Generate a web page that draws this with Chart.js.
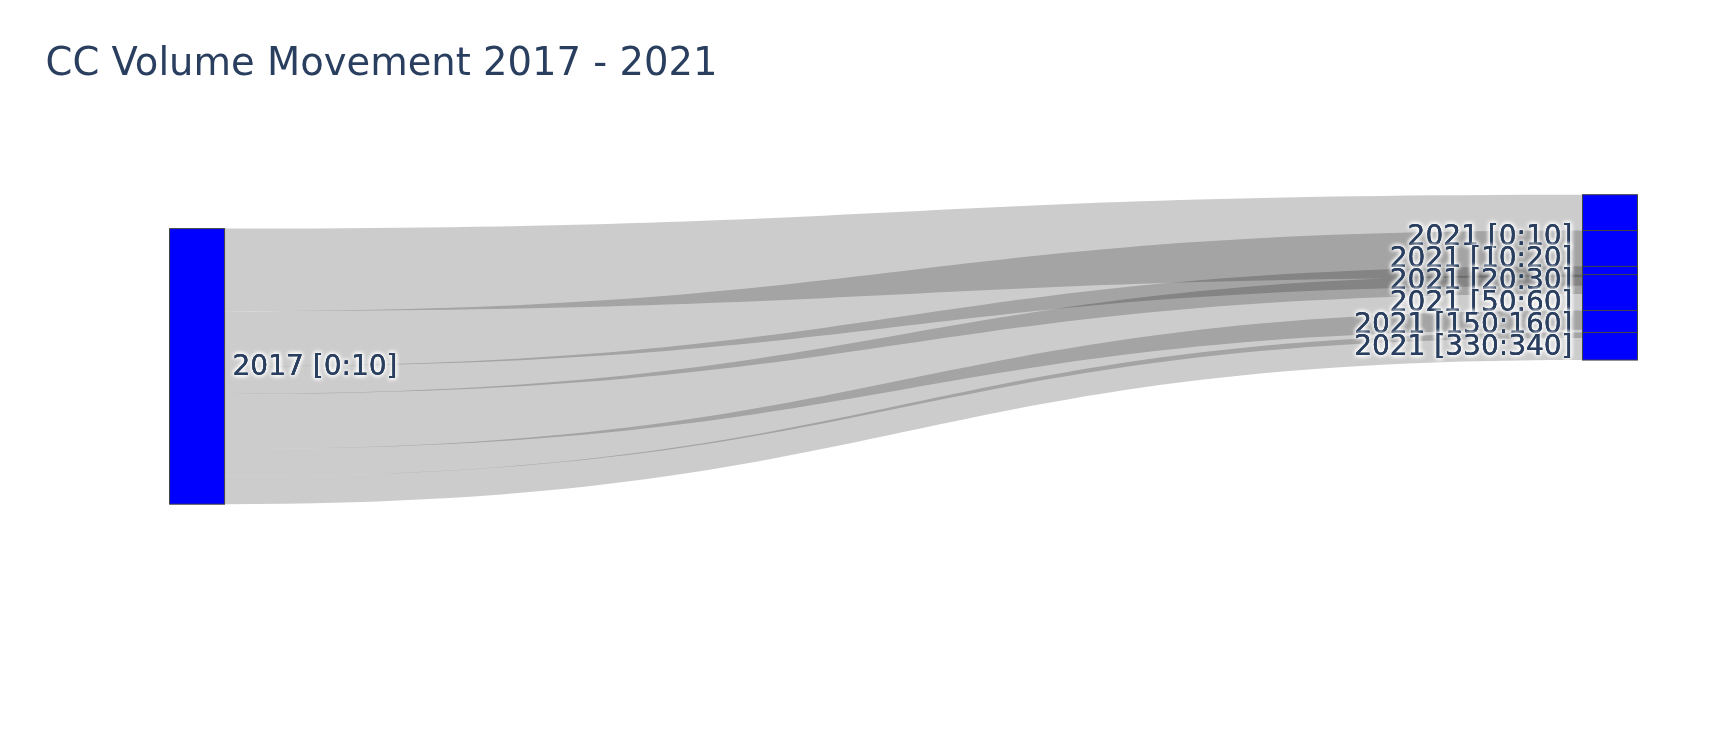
<!DOCTYPE html>
<html>
<head>
<meta charset="utf-8">
<script src="https://cdn.jsdelivr.net/npm/chart.js@4.4.1/dist/chart.umd.min.js"></script>
<style>
html,body{margin:0;padding:0;background:#ffffff;}
#wrap{width:1715px;height:734px;position:relative;}
</style>
</head>
<body>
<div id="wrap"><canvas id="c"></canvas></div>
<script>
// ---- data ----
const titleText = 'CC Volume Movement 2017 - 2021';
const sourceLabel = '2017 [0:10]';
const targetLabels = ['2021 [0:10]', '2021 [10:20]', '2021 [20:30]', '2021 [50:60]', '2021 [150:160]', '2021 [330:340]'];
const linkValues = [3, 2, 1, 2, 1, 1];           // flow from the 2017 node to each 2021 node
const sourceCenter = 5;                           // node centre positions, in value units
const targetCenters = [0.27, 1.07, 1.87, 2.67, 3.47, 4.27];

// ---- style ----
const NODE_THICK = 55;
const NODE_COLOR = '#0000ff';
const NODE_LINE = 'rgb(68,68,68)';
const LINK_COLOR = 'rgba(0,0,0,0.2)';
const TEXT_COLOR = '#2a3f5f';
const LABEL_FONT = '28px "DejaVu Sans"';

function drawLabel(ctx, text, x, y, align) {
  ctx.save();
  ctx.font = LABEL_FONT;
  ctx.textAlign = align;
  ctx.textBaseline = 'alphabetic';
  ctx.fillStyle = TEXT_COLOR;
  ctx.shadowColor = '#ffffff';
  ctx.shadowBlur = 4;
  const offs = [[1, 1], [1, -1], [-1, 1], [-1, -1]];
  for (const [dx, dy] of offs) {
    ctx.shadowOffsetX = dx;
    ctx.shadowOffsetY = dy;
    ctx.fillText(text, x, y);
  }
  ctx.shadowColor = 'rgba(0,0,0,0)';
  ctx.shadowBlur = 0;
  ctx.shadowOffsetX = 0;
  ctx.shadowOffsetY = 0;
  ctx.fillText(text, x, y);
  ctx.restore();
}

function drawNode(ctx, x0, y0, x1, y1) {
  ctx.fillStyle = NODE_COLOR;
  ctx.fillRect(x0, y0, x1 - x0, y1 - y0);
  ctx.lineWidth = 1;
  ctx.strokeStyle = NODE_LINE;
  ctx.strokeRect(x0, y0, x1 - x0, y1 - y0);
}

const sankeyPlugin = {
  id: 'sankeyDraw',
  afterDatasetsDraw(chart) {
    const ctx = chart.ctx;
    const xs = chart.scales.x, ys = chart.scales.y;
    const sx0 = xs.getPixelForValue(0), sx1 = sx0 + NODE_THICK;
    const tx0 = xs.getPixelForValue(1), tx1 = tx0 + NODE_THICK;
    const total = linkValues.reduce((a, b) => a + b, 0);
    const sTop = sourceCenter - total / 2;
    ctx.save();
    // links
    let acc = sTop;
    linkValues.forEach((v, i) => {
      const s0 = ys.getPixelForValue(acc), s1 = ys.getPixelForValue(acc + v);
      const tTop = targetCenters[i] - v / 2;
      const t0 = ys.getPixelForValue(tTop), t1 = ys.getPixelForValue(tTop + v);
      acc += v;
      const xm = (sx1 + tx0) / 2;
      ctx.beginPath();
      ctx.moveTo(sx1, s0);
      ctx.bezierCurveTo(xm, s0, xm, t0, tx0, t0);
      ctx.lineTo(tx0, t1);
      ctx.bezierCurveTo(xm, t1, xm, s1, sx1, s1);
      ctx.closePath();
      ctx.fillStyle = LINK_COLOR;
      ctx.fill();
    });
    // source node + label
    const sy0 = ys.getPixelForValue(sTop), sy1 = ys.getPixelForValue(sTop + total);
    drawNode(ctx, sx0, sy0, sx1, sy1);
    drawLabel(ctx, sourceLabel, sx1 + 8, ys.getPixelForValue(sourceCenter) + 8.5, 'left');
    // target nodes + labels
    linkValues.forEach((v, i) => {
      const t0 = ys.getPixelForValue(targetCenters[i] - v / 2);
      const t1 = ys.getPixelForValue(targetCenters[i] + v / 2);
      drawNode(ctx, tx0, t0, tx1, t1);
      drawLabel(ctx, targetLabels[i], tx0 - 10, ys.getPixelForValue(targetCenters[i]) + 8.5, 'right');
    });
    ctx.restore();
  }
};

const nodePoints = [{x: 0, y: sourceCenter}].concat(targetCenters.map(c => ({x: 1, y: c})));

new Chart(document.getElementById('c'), {
  type: 'scatter',
  data: {
    datasets: [{
      label: 'nodes',
      data: nodePoints,
      pointRadius: 0,
      pointHoverRadius: 0,
      showLine: false
    }]
  },
  options: {
    responsive: true,
    maintainAspectRatio: false,
    animation: false,
    events: [],
    layout: { padding: { left: 45.5, right: 132.5, top: 0, bottom: 92 } },
    scales: {
      x: { type: 'linear', min: -0.0878, max: 1, display: false },
      y: { type: 'linear', reverse: true, min: -5.112, max: 15, display: false }
    },
    plugins: {
      legend: { display: false },
      tooltip: { enabled: false },
      title: {
        display: true,
        text: titleText,
        align: 'start',
        color: TEXT_COLOR,
        font: { family: '"DejaVu Sans"', size: 38.5, weight: 'normal', lineHeight: 1.2 },
        padding: { top: 41.5, bottom: 0 }
      }
    }
  },
  plugins: [sankeyPlugin]
});
</script>
</body>
</html>
